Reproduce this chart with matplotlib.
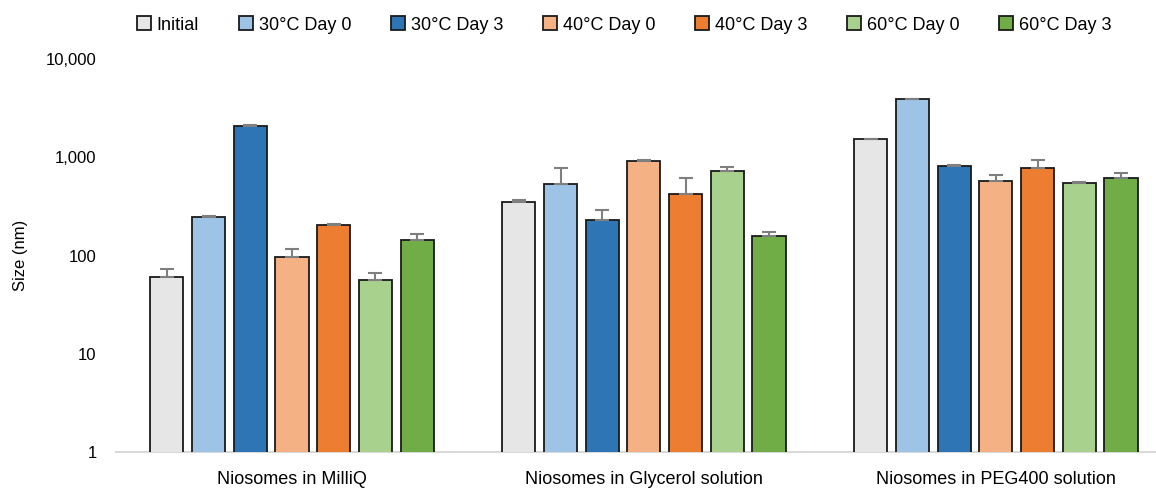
import matplotlib
matplotlib.use("Agg")
import matplotlib.pyplot as plt
import numpy as np

categories = ["Niosomes in MilliQ", "Niosomes in Glycerol solution", "Niosomes in PEG400 solution"]
series = ["Initial", "30°C Day 0", "30°C Day 3", "40°C Day 0", "40°C Day 3", "60°C Day 0", "60°C Day 3"]
colors = ["#E6E6E6", "#9DC3E6", "#2E75B6", "#F4B183", "#ED7D31", "#A9D18E", "#70AD47"]

initial   = [60, 350, 1520]
d30_day0  = [247, 530, 3900]
d30_day3  = [2080, 230, 815]
d40_day0  = [97, 920, 570]
d40_day3  = [204, 423, 777]
d60_day0  = [56, 720, 551]
d60_day3  = [144, 159, 611]

initial_err  = [13, 15, 15]
d30_day0_err = [6, 250, 20]
d30_day3_err = [25, 58, 15]
d40_day0_err = [19, 15, 92]
d40_day3_err = [4, 188, 167]
d60_day0_err = [10, 81, 14]
d60_day3_err = [21, 16, 86]

values = [initial, d30_day0, d30_day3, d40_day0, d40_day3, d60_day0, d60_day3]
errors = [initial_err, d30_day0_err, d30_day3_err, d40_day0_err, d40_day3_err, d60_day0_err, d60_day3_err]

plt.rcParams['font.family'] = ['Liberation Sans', 'DejaVu Sans']

fig = plt.figure(figsize=(11.56, 4.91), dpi=100)
ax = fig.add_axes([116/1156, 39/491, (1156-116)/1156, (452-59)/491])

x = np.arange(len(categories))
pitch = 0.1185
width = 0.094
for i, (vals, errs) in enumerate(zip(values, errors)):
    pos = x + (i - 3) * pitch
    ax.bar(pos, vals, width=width, color=colors[i], edgecolor="#1a1a1a", linewidth=1.3,
           label=series[i], zorder=2)
    ax.errorbar(pos, vals, yerr=[np.zeros(len(errs)), errs], fmt="none", ecolor="#7f7f7f",
                elinewidth=1.5, capsize=5, capthick=1.5, zorder=3)

ax.set_yscale("log")
ax.set_ylim(1, 10000)
ax.set_xlim(-0.5, 2.455)
ax.set_yticks([1, 10, 100, 1000, 10000])
ax.set_yticklabels(["1", "10", "100", "1,000", "10,000"])
ax.minorticks_off()
ax.set_xticks(x)
ax.set_xticklabels(categories)
ax.tick_params(axis="y", length=0, pad=14, labelsize=12)
ax.tick_params(axis="x", length=0, pad=14, labelsize=13)
for s in ["top", "right", "left"]:
    ax.spines[s].set_visible(False)
ax.spines["bottom"].set_color("#D9D9D9")
ax.spines["bottom"].set_linewidth(1.5)
ax.spines["bottom"].set_zorder(1)

fig.text(20/1156, (491-255)/491, "Size (nm)", rotation=90, ha="center", va="center", fontsize=12)

handles, labels = ax.get_legend_handles_labels()
fig.legend(handles, labels, loc="center", bbox_to_anchor=(624/1156, (491-25)/491), ncol=7,
           frameon=False, fontsize=13, handlelength=0.8, handleheight=0.8, handletextpad=0.3,
           columnspacing=2.2)

fig.savefig("out.png", dpi=100)
